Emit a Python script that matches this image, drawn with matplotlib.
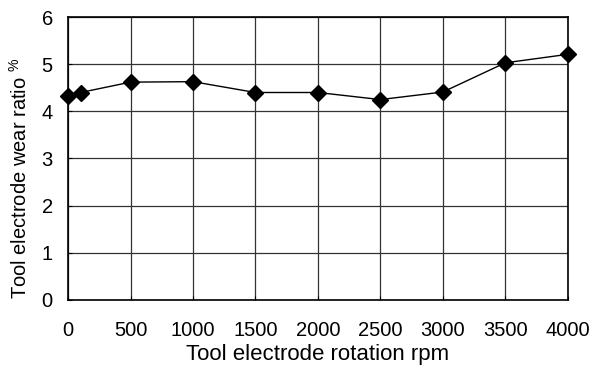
import matplotlib
matplotlib.use("Agg")
import matplotlib.pyplot as plt

rpm = [0, 100, 500, 1000, 1500, 2000, 2500, 3000, 3500, 4000]
wear = [4.33, 4.40, 4.62, 4.63, 4.40, 4.40, 4.25, 4.41, 5.03, 5.21]
xticks = [0, 500, 1000, 1500, 2000, 2500, 3000, 3500, 4000]
yticks = [0, 1, 2, 3, 4, 5, 6]

plt.rcParams['font.family'] = ['Liberation Sans', 'DejaVu Sans']
plt.rcParams['mathtext.default'] = 'regular'

fig = plt.figure(figsize=(5.92, 3.72), dpi=100)
ax = fig.add_axes([0.115, 0.194, 0.844, 0.760])
ax.plot(rpm, wear, color='black', lw=1.0, marker='D', ms=7.7,
        markerfacecolor='black', markeredgecolor='black', clip_on=False, zorder=5)
ax.set_xlim(0, 4000)
ax.set_ylim(0, 6)
ax.set_xticks(xticks)
ax.set_yticks(yticks)
ax.grid(True, color='#333333', lw=0.9)
ax.set_axisbelow(True)
for s in ax.spines.values():
    s.set_linewidth(1.2)
    s.set_color('black')
ax.tick_params(axis='both', direction='in', length=3, width=0.8, labelsize=14.5)
ax.tick_params(axis='x', pad=15)
ax.tick_params(axis='y', pad=11)
ax.set_xlabel('Tool electrode rotation rpm', fontsize=16, labelpad=3)
ax.set_ylabel(r'Tool electrode wear ratio $\mathregular{^{\%}}$', fontsize=14.5)
ax.yaxis.set_label_coords(-0.074, 0.43)
fig.savefig('out.png', dpi=100)
